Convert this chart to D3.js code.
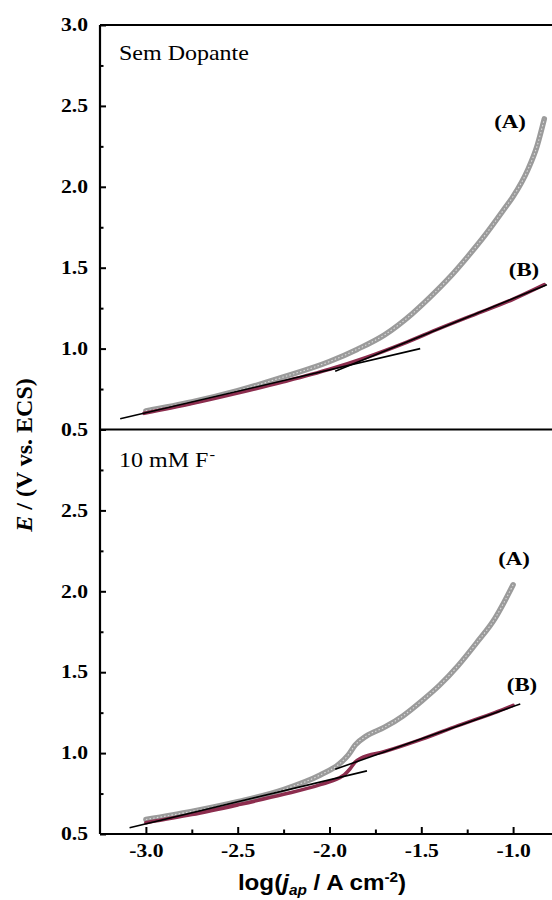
<!DOCTYPE html>
<html>
<head>
<meta charset="utf-8">
<script src="https://cdn.jsdelivr.net/npm/d3@7"></script>
<style>
  body { margin: 0; background: #fff; }
  svg { display: block; }
</style>
</head>
<body>
<div id="chart"></div>
<script>
// values: [log(j / A cm-2), E / V vs. ECS]
const topA = [[-3.00,0.615],[-2.75,0.670],[-2.50,0.740],[-2.25,0.825],[-2.00,0.920],[-1.85,0.995],
  [-1.70,1.085],[-1.55,1.215],[-1.45,1.320],[-1.35,1.435],[-1.25,1.565],[-1.15,1.705],[-1.05,1.860],
  [-1.00,1.940],[-0.92,2.105],[-0.87,2.250],[-0.83,2.420]];
const topB = [[-3.01,0.600],[-2.75,0.660],[-2.50,0.725],[-2.25,0.795],[-2.00,0.872],[-1.80,0.945],
  [-1.60,1.030],[-1.40,1.125],[-1.20,1.215],[-1.00,1.305],[-0.83,1.395]];
const topFit1 = [[-3.14,0.566],[-1.506,1.000]];
const topFit2 = [[-1.969,0.860],[-0.816,1.395]];

const botA = [[-3.00,0.590],[-2.75,0.640],[-2.50,0.700],[-2.25,0.775],[-2.05,0.865],[-1.95,0.930],
  [-1.90,0.985],[-1.86,1.050],[-1.80,1.105],[-1.70,1.160],[-1.60,1.230],[-1.50,1.320],[-1.40,1.420],
  [-1.30,1.540],[-1.20,1.680],[-1.10,1.830],[-1.05,1.930],[-1.00,2.040]];
const botB = [[-3.00,0.570],[-2.75,0.620],[-2.50,0.680],[-2.25,0.745],[-2.05,0.805],[-1.95,0.845],
  [-1.92,0.865],[-1.89,0.900],[-1.86,0.945],[-1.83,0.968],[-1.70,1.010],[-1.50,1.085],[-1.30,1.170],
  [-1.10,1.250],[-1.00,1.295]];
const botFit1 = [[-3.089,0.539],[-1.796,0.890]];
const botFit2 = [[-1.969,0.900],[-0.961,1.304]];

const xMajor = [-3.0, -2.5, -2.0, -1.5, -1.0];
const xMinor = [-2.75, -2.25, -1.75, -1.25];
const yMajorTop = [3.0, 2.5, 2.0, 1.5, 1.0, 0.5];
const yMajorBot = [2.5, 2.0, 1.5, 1.0, 0.5];
const yMinor = [2.75, 2.25, 1.75, 1.25, 0.75];

const width = 552, height = 900;
const stretch = 1.2; // glyphs in the figure are wide

const svg = d3.select("#chart").append("svg")
  .attr("width", width)
  .attr("height", height);

const x = d3.scaleLinear().domain([-3.25, -0.75]).range([100, 559]);
const yTop = d3.scaleLinear().domain([0.5, 3.0]).range([429.5, 25]);
const yBot = d3.scaleLinear().domain([0.5, 3.0]).range([834, 429.5]);

const panels = [
  { y: yTop, A: topA, B: topB, fits: [topFit1, topFit2], majors: yMajorTop, name: "Sem Dopante",
    labA: [510, 128], labB: [524, 276] },
  { y: yBot, A: botA, B: botB, fits: [botFit1, botFit2], majors: yMajorBot, name: "10 mM F",
    labA: [514, 565], labB: [522, 691] }
];

const serif = "'Liberation Serif','Times New Roman',serif";

panels.forEach((p, i) => {
  const g = svg.append("g");
  const line = d3.line().x(d => x(d[0])).y(d => p.y(d[1])).curve(d3.curveMonotoneX);

  // curve A: open grey circles, drawn as a band
  g.append("path").datum(p.A)
    .attr("d", line).attr("fill", "none")
    .attr("stroke", "#9b9b9b").attr("stroke-width", 5.5).attr("stroke-linecap", "round");
  g.append("path").datum(p.A)
    .attr("d", line).attr("fill", "none")
    .attr("stroke", "#dcdcdc").attr("stroke-width", 1.1).attr("stroke-dasharray", "1.5,2.2");

  // curve B
  g.append("path").datum(p.B)
    .attr("d", line).attr("fill", "none")
    .attr("stroke", "#8c2d4e").attr("stroke-width", 3.6).attr("stroke-linecap", "round");

  // Tafel fits
  p.fits.forEach(f => {
    g.append("path").datum(f)
      .attr("d", d3.line().x(d => x(d[0])).y(d => p.y(d[1])))
      .attr("stroke", "#000").attr("stroke-width", 1.6).attr("fill", "none");
  });

  // y axis
  g.append("g").attr("transform", `translate(${x(-3.25)},0)`)
    .call(d3.axisLeft(p.y).tickValues(p.majors).tickSize(-6).tickPadding(10)
      .tickFormat(d => d.toFixed(1)));
  g.append("g").attr("transform", `translate(${x(-3.25)},0)`)
    .call(d3.axisLeft(p.y).tickValues(yMinor).tickSize(-3.5).tickFormat(""));

  // panel label
  const t = g.append("text")
    .attr("transform", `translate(119,${i === 0 ? 60 : 467}) scale(${stretch},1)`)
    .attr("font-family", serif).attr("font-size", 20).text(p.name);
  if (i === 1) t.append("tspan").attr("dx", 1).attr("dy", -8).attr("font-size", 14).text("-");

  [["(A)", p.labA], ["(B)", p.labB]].forEach(([s, pos]) => {
    g.append("text")
      .attr("transform", `translate(${pos[0]},${pos[1]}) scale(${stretch},1)`)
      .attr("text-anchor", "middle").attr("font-family", serif)
      .attr("font-weight", "bold").attr("font-size", 19).text(s);
  });
});

// x axis
svg.append("g").attr("transform", `translate(0,${yBot(0.5)})`)
  .call(d3.axisBottom(x).tickValues(xMajor).tickSize(-7).tickPadding(10)
    .tickFormat(d => d.toFixed(1)));
svg.append("g").attr("transform", `translate(0,${yBot(0.5)})`)
  .call(d3.axisBottom(x).tickValues(xMinor).tickSize(-4.5).tickFormat(""));

svg.selectAll(".domain").remove();
svg.selectAll(".tick line").attr("stroke", "#000").attr("stroke-width", 2);
svg.selectAll(".tick text")
  .attr("font-family", serif).attr("font-weight", "bold").attr("font-size", 18)
  .attr("fill", "#000")
  .attr("transform", `scale(${stretch},1)`);

// frame: left axis, top, shared middle line, bottom axis, right side
const frame = svg.append("g").attr("stroke", "#000").attr("stroke-width", 2.2).attr("fill", "none");
frame.append("line").attr("x1", x(-3.25)).attr("x2", x(-3.25)).attr("y1", yTop(3.0)).attr("y2", yBot(0.5));
frame.append("line").attr("x1", x(-3.25)).attr("x2", x(-0.75)).attr("y1", yTop(3.0)).attr("y2", yTop(3.0));
frame.append("line").attr("x1", x(-3.25)).attr("x2", x(-0.75)).attr("y1", yTop(0.5)).attr("y2", yTop(0.5));
frame.append("line").attr("x1", x(-3.25)).attr("x2", x(-0.75)).attr("y1", yBot(0.5)).attr("y2", yBot(0.5));
frame.append("line").attr("x1", x(-0.75)).attr("x2", x(-0.75)).attr("y1", yTop(3.0)).attr("y2", yBot(0.5));

// axis titles
const xt = svg.append("text")
  .attr("transform", `translate(322,890) scale(1.1,1)`)
  .attr("text-anchor", "middle")
  .attr("font-family", "'Liberation Sans',Arial,sans-serif")
  .attr("font-weight", "bold").attr("font-size", 22);
xt.append("tspan").text("log(");
xt.append("tspan").attr("font-style", "italic").text("j");
xt.append("tspan").attr("font-style", "italic").attr("font-size", 14).attr("dy", 5).text("ap");
xt.append("tspan").attr("dy", -5).text(" / A cm");
xt.append("tspan").attr("font-size", 14).attr("dy", -8).text("-2");
xt.append("tspan").attr("dy", 8).text(")");

const yt = svg.append("text")
  .attr("transform", `translate(32,455) rotate(-90)`)
  .attr("text-anchor", "middle")
  .attr("font-family", serif).attr("font-weight", "bold").attr("font-size", 24);
yt.append("tspan").attr("font-style", "italic").text("E");
yt.append("tspan").text(" / (V vs. ECS)");
</script>
</body>
</html>
